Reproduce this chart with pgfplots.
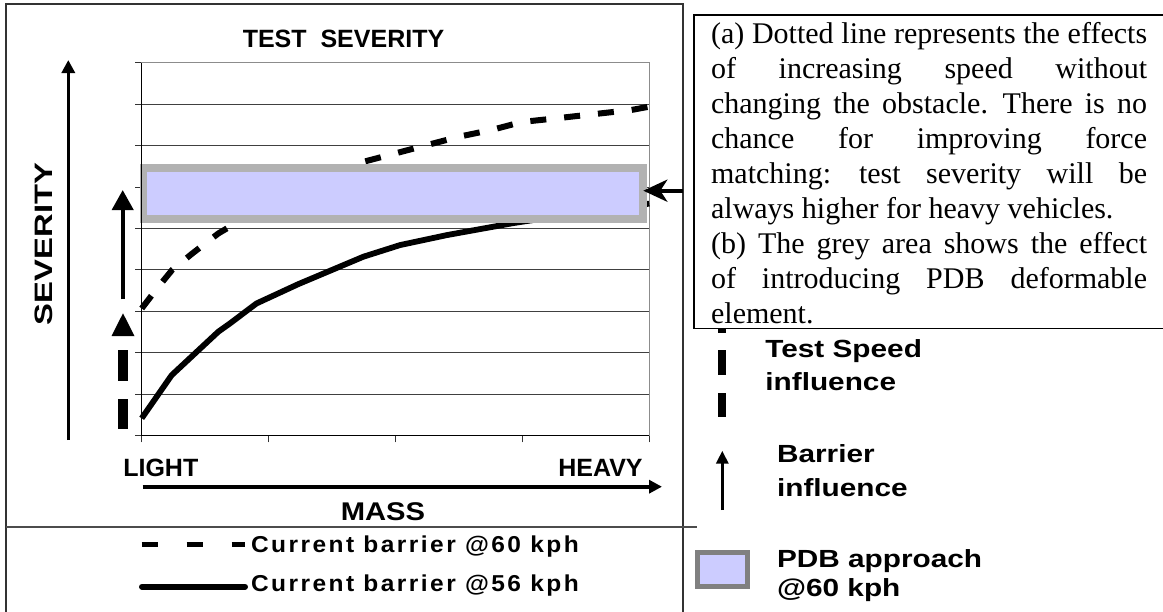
\documentclass[border=0pt]{standalone}
\usepackage{pgfplots}
\pgfplotsset{compat=1.18}
\usepackage{fontspec}
\usetikzlibrary{arrows.meta}
\setmainfont{Liberation Serif}
\newfontfamily\arial{Liberation Sans}
\newfontfamily\arialsp[LetterSpace=10]{Liberation Sans}
\definecolor{lav}{RGB}{204,204,255}
\definecolor{boxgray}{RGB}{178,178,178}
\definecolor{leggray}{RGB}{128,128,128}
\newcommand\jl[1]{\hbox to 218pt{#1}}
\begin{document}
\begin{tikzpicture}
\begin{scope}[x=0.5pt,y=-0.5pt]
% outer chart frame and separator
\draw[line width=0.6pt, black!80] (6,640) -- (6,4) -- (683,4) -- (683,640);
\draw[line width=0.6pt, black!70] (6,527) -- (697,527);
\end{scope}
\begin{axis}[
  at={(70.85pt,-217.85pt)}, anchor=south west,
  scale only axis, width=253.8pt, height=186.5pt,
  xmin=0, xmax=1, ymin=0, ymax=9,
  xtick={0,0.25,0.5,0.75,1}, ytick={0,1,...,9},
  xticklabels={}, yticklabels={},
  xtick pos=bottom, ytick pos=left,
  tick align=outside, major tick length=3.3pt,
  tick style={black!80, line width=0.5pt},
  ymajorgrids, grid style={black!75, line width=0.5pt},
  axis line style={draw=black!45, line width=0.6pt},
  clip=false,
]
\addplot[black, line width=2.9pt, line join=round] coordinates {
 (0,0.42) (0.059,1.46) (0.151,2.51) (0.174,2.71) (0.226,3.19) (0.309,3.66)
 (0.437,4.32) (0.509,4.60) (0.601,4.84) (0.732,5.13) (0.85,5.35) (1,5.6)};
\addplot[black, line width=3pt, line cap=butt, dash pattern=on 8pt off 9pt] coordinates {
 (0,3.07) (0.03,3.55) (0.06,4.0) (0.1,4.4) (0.151,4.88) (0.25,5.6) (0.34,6.1)
 (0.437,6.61) (0.496,6.8) (0.561,7.01) (0.627,7.22) (0.69,7.38) (0.749,7.57)
 (0.818,7.66) (0.906,7.78) (0.965,7.86) (1,7.94)};
\addplot[draw=boxgray, line width=3.85pt, fill=lav] coordinates {
 (0.0035,5.23) (0.9876,5.23) (0.9876,6.46) (0.0035,6.46)} -- cycle;
\draw[black, line width=0.6pt] (axis cs:0,9) -- (axis cs:0,0) -- (axis cs:1,0);
\end{axis}
\begin{scope}[x=0.5pt,y=-0.5pt]
% title
\node[anchor=base, inner sep=0] at (343.5,47) {\arial\bfseries\fontsize{12.5pt}{14pt}\selectfont TEST\ \ SEVERITY};
% SEVERITY label
\node[rotate=90, anchor=base, inner sep=0] at (53,244) {\scalebox{1.3}[1]{\arial\bfseries\fontsize{12.6pt}{14pt}\selectfont SEVERITY}};
\draw[line width=1.75pt, -{Triangle[length=6.5pt,width=6.5pt]}] (68.3,440) -- (68.3,60);
% barrier arrow and test speed indicator in chart
\draw[line width=2pt, -{Triangle[length=10pt,width=10.5pt]}] (122.7,299.3) -- (122.7,190);
\draw[line width=5pt] (123,350) -- (123,380.7) (123,399.3) -- (123,429.3);
\fill (123,313.3) -- (134.5,336) -- (111.5,336) -- cycle;
% x labels
\node[anchor=base west, inner sep=0] at (122.9,476) {\arial\bfseries\fontsize{12.5pt}{14pt}\selectfont LIGHT};
\node[anchor=base east, inner sep=0] at (643,476) {\arial\bfseries\fontsize{12.5pt}{14pt}\selectfont HEAVY};
\draw[line width=1.85pt, -{Triangle[length=6.5pt,width=6.5pt]}] (142.5,486.7) -- (662,486.7);
\node[anchor=base, inner sep=0] at (383,520) {\scalebox{1.14}[1]{\arial\bfseries\fontsize{12.8pt}{14pt}\selectfont MASS}};
% legend bottom
\draw[line width=2.4pt, line cap=butt, dash pattern=on 8.3pt off 14.2pt] (141.7,544.3) -- (245,544.3);
\draw[line width=3pt, line cap=round] (142,586.7) -- (245,586.7);
\node[anchor=base west, inner sep=0] at (250.7,552) {\scalebox{1.065}[1]{\arialsp\bfseries\fontsize{11.5pt}{13pt}\selectfont Current barrier @60 kph}};
\node[anchor=base west, inner sep=0] at (250.7,591.5) {\scalebox{1.065}[1]{\arialsp\bfseries\fontsize{11.5pt}{13pt}\selectfont Current barrier @56 kph}};
% pointer arrow to box
\draw[line width=2.2pt, -{Stealth[length=12pt,width=11pt,inset=3.5pt]}] (683,190.7) -- (643.3,190.7);
% right legend
\draw[line width=3.85pt] (722,310) -- (722,333) (722,350) -- (722,375) (722,393.3) -- (722,416.7);
\draw[line width=1.5pt, -{Triangle[length=6.5pt,width=6pt]}] (722.3,510) -- (722.3,450.7);
\draw[draw=leggray, line width=2.5pt, fill=lav] (697.5,552.5) rectangle (747.5,586.8);
\node[anchor=base west, inner sep=0] at (765,357.3) {\scalebox{1.2}[1]{\arial\bfseries\fontsize{12.4pt}{14pt}\selectfont Test Speed}};
\node[anchor=base west, inner sep=0] at (765,390.7) {\scalebox{1.2}[1]{\arial\bfseries\fontsize{12.4pt}{14pt}\selectfont influence}};
\node[anchor=base west, inner sep=0] at (776.7,462.7) {\scalebox{1.2}[1]{\arial\bfseries\fontsize{12.4pt}{14pt}\selectfont Barrier}};
\node[anchor=base west, inner sep=0] at (776.7,496.7) {\scalebox{1.2}[1]{\arial\bfseries\fontsize{12.4pt}{14pt}\selectfont influence}};
\node[anchor=base west, inner sep=0] at (776.7,567.3) {\scalebox{1.2}[1]{\arial\bfseries\fontsize{12.4pt}{14pt}\selectfont PDB approach}};
\node[anchor=base west, inner sep=0] at (776.7,596) {\scalebox{1.2}[1]{\arial\bfseries\fontsize{12.4pt}{14pt}\selectfont @60 kph}};
% text box
\draw[fill=white, line width=0.6pt] (694,15) rectangle (1175,328.3);
\begin{scope}[every node/.style={anchor=base west, inner sep=0, font=\fontsize{15pt}{17.5pt}\selectfont}]
\node at (710.7,43.3) {\jl{(a) \hfill Dotted \hfill line \hfill represents \hfill the \hfill effects}};
\node at (710.7,78.3) {\jl{of \hfill increasing \hfill speed \hfill without}};
\node at (710.7,113.3) {\jl{changing \hfill the \hfill obstacle. \hfill There \hfill is \hfill no}};
\node at (710.7,148.3) {\jl{chance \hfill for \hfill improving \hfill force}};
\node at (710.7,183.3) {\jl{matching: \hfill test \hfill severity \hfill will \hfill be}};
\node at (710.7,218.3) {always higher for heavy vehicles.};
\node at (710.7,253.3) {\jl{(b) \hfill The \hfill grey \hfill area \hfill shows \hfill the \hfill effect}};
\node at (710.7,288.3) {\jl{of \hfill introducing \hfill PDB \hfill deformable}};
\node at (710.7,323.3) {element.};
\end{scope}
\end{scope}
\pgfresetboundingbox
\path[use as bounding box] (0pt,0pt) rectangle (581.5pt,-305.5pt);
\end{tikzpicture}
\end{document}
